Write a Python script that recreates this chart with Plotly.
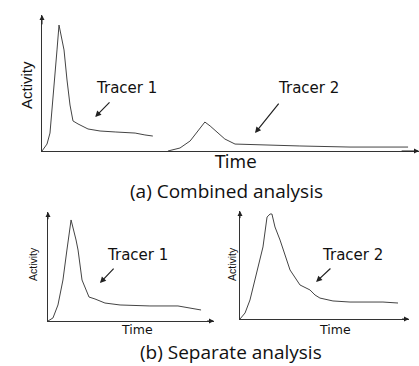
import plotly.graph_objects as go

# ---- data (arbitrary units, time 0-100, activity 0-100) ----
comb_t1_time = [0, 1.33, 2.12, 2.92, 3.98, 4.51, 5.04, 5.84, 6.63, 7.43, 8.22, 9.55, 12.2, 15.4, 19.4, 24.7, 27.3, 29.4]
comb_t1_act = [0, 5.1, 13.2, 37.5, 74.3, 92.6, 85.3, 74.3, 52.2, 33.8, 22.1, 19.9, 16.2, 14.7, 14.0, 13.2, 11.8, 11.0]

comb_t2_time = [33.4, 36.6, 39.3, 41.4, 43.2, 44.6, 46.4, 48.5, 51.2, 57.8, 68.4, 81.7, 97.1]
comb_t2_act = [0, 2.2, 7.4, 14.7, 21.3, 18.4, 14.0, 8.8, 5.1, 4.4, 3.7, 2.9, 2.9]

sep_t1_time = [0, 3.0, 6.0, 9.0, 11.4, 13.9, 16.9, 18.1, 20.5, 24.7, 28.3, 34.3, 43.4, 61.4, 78.3, 85.5, 92.2]
sep_t1_act = [0, 2.8, 14.7, 37.6, 65.1, 92.7, 74.3, 65.1, 37.6, 22.0, 20.2, 16.5, 14.7, 13.8, 13.8, 11.9, 10.1]

sep_t2_time = [0, 3.0, 5.9, 10.1, 13.6, 16.0, 17.8, 18.9, 20.7, 23.7, 29.6, 35.5, 41.4, 44.4, 47.3, 55.0, 65.1, 84.6, 93.5]
sep_t2_act = [0, 5.6, 17.6, 45.4, 66.7, 94.4, 97.2, 97.2, 85.2, 73.1, 45.4, 31.5, 26.9, 22.2, 19.4, 16.7, 15.7, 15.7, 14.8]

series_labels = ["Tracer 1", "Tracer 2"]
panel_titles = ["(a) Combined analysis", "(b) Separate analysis"]

W, H = 419, 366
def px(x):
    return x / W
def py(y):
    return 1 - y / H

line_style = dict(color="#444444", width=1)
fig = go.Figure()
fig.add_trace(go.Scatter(x=comb_t1_time, y=comb_t1_act, mode="lines", line=line_style, xaxis="x", yaxis="y"))
fig.add_trace(go.Scatter(x=comb_t2_time, y=comb_t2_act, mode="lines", line=line_style, xaxis="x", yaxis="y"))
fig.add_trace(go.Scatter(x=sep_t1_time, y=sep_t1_act, mode="lines", line=line_style, xaxis="x2", yaxis="y2"))
fig.add_trace(go.Scatter(x=sep_t2_time, y=sep_t2_act, mode="lines", line=line_style, xaxis="x3", yaxis="y3"))

ax_common = dict(range=[0, 100], showline=True, linecolor="#333333", linewidth=1,
                 showgrid=False, zeroline=False, showticklabels=False, ticks="", fixedrange=True)

fig.update_layout(
    width=W, height=H, autosize=False,
    margin=dict(l=0, r=0, t=0, b=0),
    paper_bgcolor="white", plot_bgcolor="white",
    showlegend=False,
    xaxis=dict(**ax_common, domain=[px(42), px(419)], anchor="y"),
    yaxis=dict(**ax_common, domain=[py(151), py(15)], anchor="x"),
    xaxis2=dict(**ax_common, domain=[px(48), px(214)], anchor="y2"),
    yaxis2=dict(**ax_common, domain=[py(321), py(212)], anchor="x2"),
    xaxis3=dict(**ax_common, domain=[px(240), px(409)], anchor="y3"),
    yaxis3=dict(**ax_common, domain=[py(319), py(211)], anchor="x3"),
)

ann = []
# axis arrowheads
for xr, yr in [("x", "y"), ("x2", "y2"), ("x3", "y3")]:
    ann.append(dict(x=0, y=100, ax=0, ay=92, xref=xr, yref=yr, axref=xr, ayref=yr, text="",
                    showarrow=True, arrowhead=2, arrowsize=1, arrowwidth=1, arrowcolor="#222222"))
    ann.append(dict(x=100, y=0, ax=95, ay=0, xref=xr, yref=yr, axref=xr, ayref=yr, text="",
                    showarrow=True, arrowhead=2, arrowsize=1, arrowwidth=1, arrowcolor="#222222"))

lab_font = dict(family="DejaVu Sans", size=15, color="#111111")
# tracer labels + pointer arrows
ann.append(dict(x=22.5, y=46.3, xref="x", yref="y", text=series_labels[0], showarrow=False, font=lab_font))
ann.append(dict(x=14.1, y=25.0, ax=18.3, ay=36.8, xref="x", yref="y", axref="x", ayref="y", text="",
                showarrow=True, arrowhead=2, arrowsize=1, arrowwidth=1.2, arrowcolor="#222222"))
ann.append(dict(x=70.8, y=46.3, xref="x", yref="y", text=series_labels[1], showarrow=False, font=lab_font))
ann.append(dict(x=56.5, y=13.2, ax=63.1, ay=36.0, xref="x", yref="y", axref="x", ayref="y", text="",
                showarrow=True, arrowhead=2, arrowsize=1, arrowwidth=1.2, arrowcolor="#222222"))

ann.append(dict(x=54.2, y=60.6, xref="x2", yref="y2", text=series_labels[0], showarrow=False, font=lab_font))
ann.append(dict(x=31.3, y=34.9, ax=40.4, ay=49.5, xref="x2", yref="y2", axref="x2", ayref="y2", text="",
                showarrow=True, arrowhead=2, arrowsize=1, arrowwidth=1.2, arrowcolor="#222222"))
ann.append(dict(x=66.3, y=59.3, xref="x3", yref="y3", text=series_labels[1], showarrow=False, font=lab_font))
ann.append(dict(x=45.0, y=34.3, ax=54.4, ay=48.1, xref="x3", yref="y3", axref="x3", ayref="y3", text="",
                showarrow=True, arrowhead=2, arrowsize=1, arrowwidth=1.2, arrowcolor="#222222"))

def paper_text(x, y, text, font, angle=0):
    return dict(x=px(x), y=py(y), xref="paper", yref="paper", text=text, showarrow=False,
                xanchor="center", yanchor="middle", textangle=angle, font=font)

narrow = "Liberation Sans Narrow, Liberation Sans, Arial"
# axis titles
ann.append(paper_text(235, 162, "Time", dict(family="DejaVu Sans", size=17, color="#111111")))
ann.append(paper_text(26, 85, "Activity", dict(family=narrow, size=15, color="#111111"), -90))
ann.append(paper_text(137, 329, "Time", dict(family="DejaVu Sans", size=12.5, color="#111111")))
ann.append(paper_text(335, 329, "Time", dict(family="DejaVu Sans", size=12.5, color="#111111")))
ann.append(paper_text(33, 264, "Activity", dict(family=narrow, size=10.5, color="#111111"), -90))
ann.append(paper_text(232, 264, "Activity", dict(family=narrow, size=10.5, color="#111111"), -90))

# panel captions
ann.append(paper_text(226, 191, panel_titles[0], dict(family="Open Sans", size=19, color="#111111")))
ann.append(paper_text(231, 352, panel_titles[1], dict(family="Open Sans", size=19, color="#111111")))

fig.update_layout(annotations=ann)
fig.write_html("out.html", config={"displayModeBar": False},
               post_script="document.body.style.margin='0';document.body.style.padding='0';")
